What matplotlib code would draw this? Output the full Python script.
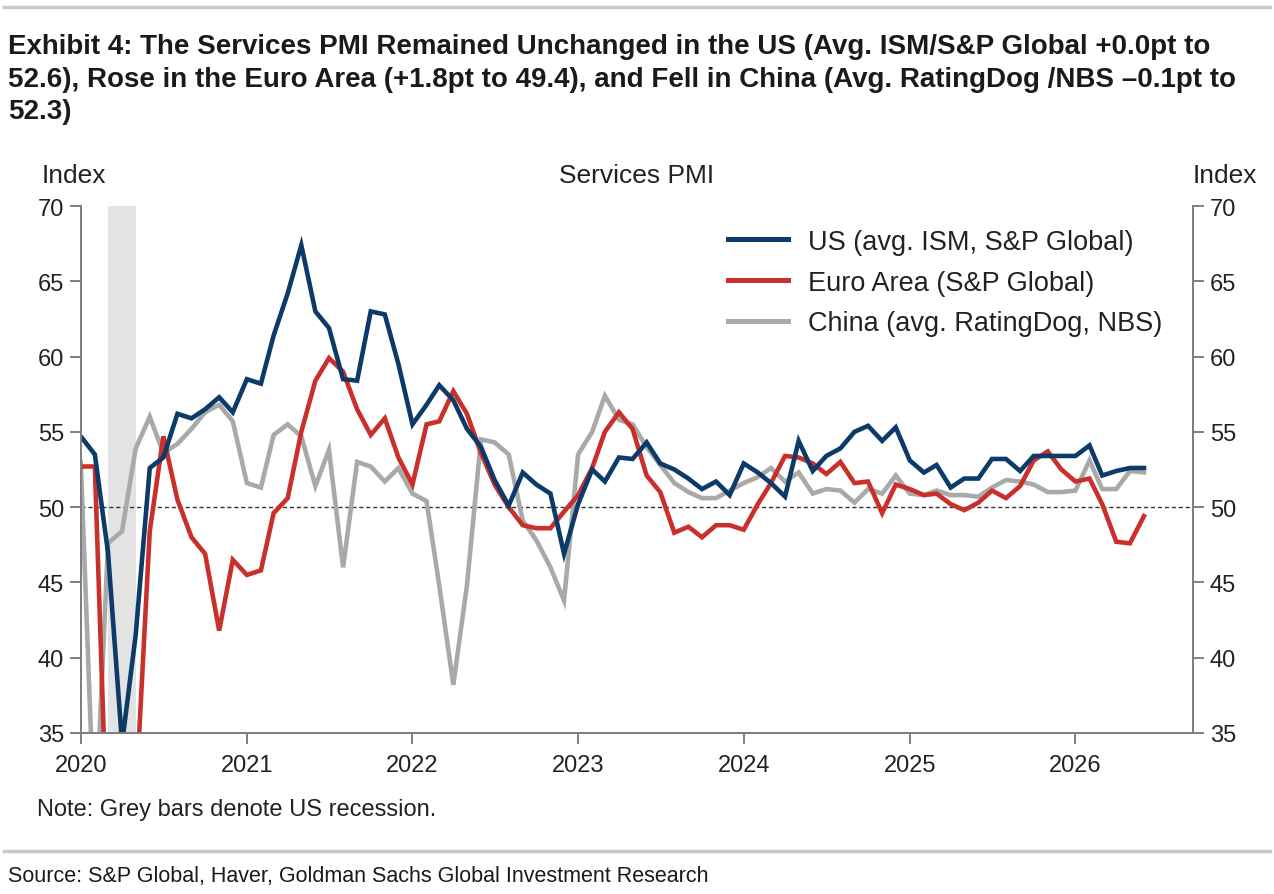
import pandas as pd
import matplotlib.pyplot as plt
import matplotlib.dates as mdates
from matplotlib.lines import Line2D

# Monthly services PMI, Jan 2020 - Jun 2026
us = [54.7, 53.5, 47.0, 34.3, 41.5, 52.6, 53.3, 56.2, 55.9, 56.5, 57.3, 56.3,
      58.5, 58.2, 61.4, 64.2, 67.4, 63.0, 61.9, 58.5, 58.4, 63.0, 62.8, 59.5,
      55.5, 56.8, 58.1, 57.1, 55.2, 54.0, 51.8, 50.1, 52.3, 51.5, 50.9, 46.9,
      50.2, 52.5, 51.7, 53.3, 53.2, 54.3, 52.9, 52.5, 51.9, 51.2, 51.7, 50.8,
      52.9, 52.3, 51.6, 50.7, 54.4, 52.4, 53.4, 53.9, 55.0, 55.4, 54.4, 55.3,
      53.1, 52.3, 52.8, 51.3, 51.9, 51.9, 53.2, 53.2, 52.4, 53.4, 53.4, 53.4,
      53.4, 54.1, 52.1, 52.4, 52.6, 52.6]
euro = [52.7, 52.7, 26.4, 12.0, 30.5, 48.4, 54.7, 50.5, 48.0, 46.9, 41.8, 46.5,
        45.5, 45.8, 49.6, 50.6, 55.0, 58.4, 59.9, 59.0, 56.5, 54.8, 55.9, 53.3,
        51.5, 55.5, 55.7, 57.7, 56.2, 53.6, 51.5, 50.0, 48.8, 48.6, 48.6, 49.7,
        50.8, 52.6, 55.0, 56.3, 55.2, 52.1, 51.0, 48.3, 48.7, 48.0, 48.8, 48.8,
        48.5, 50.2, 51.6, 53.4, 53.3, 52.9, 52.2, 53.0, 51.6, 51.7, 49.6, 51.5,
        51.2, 50.8, 50.9, 50.2, 49.8, 50.3, 51.1, 50.6, 51.4, 53.1, 53.7, 52.5,
        51.7, 51.9, 50.2, 47.7, 47.6, 49.4]
china = [53.0, 28.0, 47.6, 48.4, 53.9, 56.0, 53.6, 54.2, 55.2, 56.3, 56.8, 55.7,
         51.6, 51.3, 54.8, 55.5, 54.7, 51.4, 53.8, 46.0, 53.0, 52.7, 51.7, 52.6,
         50.9, 50.4, 44.8, 38.2, 44.8, 54.5, 54.3, 53.5, 49.1, 47.8, 46.0, 43.8,
         53.5, 55.0, 57.4, 55.8, 55.5, 54.0, 52.8, 51.6, 51.0, 50.6, 50.6, 51.1,
         51.6, 52.0, 52.6, 51.7, 52.3, 50.9, 51.2, 51.1, 50.3, 51.2, 50.9, 52.1,
         50.9, 50.8, 51.1, 50.8, 50.8, 50.7, 51.3, 51.8, 51.7, 51.5, 51.0, 51.0,
         51.1, 53.1, 51.2, 51.2, 52.4, 52.3]
dates = pd.date_range("2020-01-01", periods=len(us), freq="MS")

labels = ["US (avg. ISM, S&P Global)", "Euro Area (S&P Global)",
          "China (avg. RatingDog, NBS)"]
colors = ["#0c3b69", "#c9302c", "#a9a9a9"]

recession = ("2020-03-01", "2020-05-01")

title_lines = [
    "Exhibit 4: The Services PMI Remained Unchanged in the US (Avg. ISM/S&P Global +0.0pt to",
    "52.6), Rose in the Euro Area (+1.8pt to 49.4), and Fell in China (Avg. RatingDog /NBS \u20130.1pt to",
    "52.3)",
]

plt.rcParams['font.family'] = ['Liberation Sans', 'DejaVu Sans']
axis_col = "#7f7f7f"
text_col = "#222222"

fig = plt.figure(figsize=(12.74, 8.95), dpi=100)
ax = fig.add_axes([0.0634, 0.1799, 0.8730, 0.5888])

ax.axvspan(pd.Timestamp(recession[0]), pd.Timestamp(recession[1]),
           color="#e3e3e3", lw=0, zorder=0)
ax.axhline(50, color="#333333", lw=1.0, ls=(0, (3, 2)), zorder=1)

# grey first so US/EA sit on top
ax.plot(dates, china, color=colors[2], lw=3.3, zorder=2, solid_joinstyle="miter")
ax.plot(dates, euro, color=colors[1], lw=3.3, zorder=3, solid_joinstyle="miter")
ax.plot(dates, us, color=colors[0], lw=3.3, zorder=4, solid_joinstyle="miter")

ax.set_xlim(pd.Timestamp("2020-01-01"), pd.Timestamp("2026-09-17"))
ax.set_ylim(35, 70)
ax.set_yticks(range(35, 71, 5))
ax.xaxis.set_major_locator(mdates.YearLocator())
ax.xaxis.set_major_formatter(mdates.DateFormatter("%Y"))

ax2 = ax.twinx()
ax2.set_ylim(35, 70)
ax2.set_yticks(range(35, 71, 5))

for a in (ax, ax2):
    a.spines["top"].set_visible(False)
    for s in ("left", "right", "bottom"):
        a.spines[s].set_color(axis_col)
        a.spines[s].set_linewidth(1.4)
    a.tick_params(axis="both", colors=axis_col, labelcolor=text_col,
                  labelsize=17, length=8, width=1.4, direction="out", pad=4)
ax.tick_params(axis="x", pad=7)

handles = [Line2D([], [], color=c, lw=3.6) for c in colors]
ax.legend(handles, labels, loc="upper left", bbox_to_anchor=(0.582, 0.957),
          frameon=False, fontsize=19.5, handlelength=2.2, handletextpad=0.75,
          labelspacing=0.55, borderpad=0, borderaxespad=0, labelcolor=text_col)

# header / footer
fig.add_artist(Line2D([0.003, 0.997], [0.991, 0.991], color="#c8c8c8", lw=2.5))
for i, line in enumerate(title_lines):
    fig.text(0.006, 0.9397 - i * 0.0366, line, weight="bold", fontsize=20,
             color="#1a1a1a", va="baseline")
fig.text(0.033, 0.803, "Index", fontsize=19, color=text_col, va="center")
fig.text(0.5, 0.803, "Services PMI", fontsize=19, color=text_col, va="center", ha="center")
fig.text(0.987, 0.803, "Index", fontsize=19, color=text_col, va="center", ha="right")
fig.text(0.029, 0.095, "Note: Grey bars denote US recession.", fontsize=17,
         color=text_col, va="center")
fig.add_artist(Line2D([0.003, 0.997], [0.048, 0.048], color="#c8c8c8", lw=2.5))
fig.text(0.006, 0.0212, "Source: S&P Global, Haver, Goldman Sachs Global Investment Research",
         fontsize=15.5, color="#1a1a1a", va="center")

fig.savefig("out.png", dpi=100)
